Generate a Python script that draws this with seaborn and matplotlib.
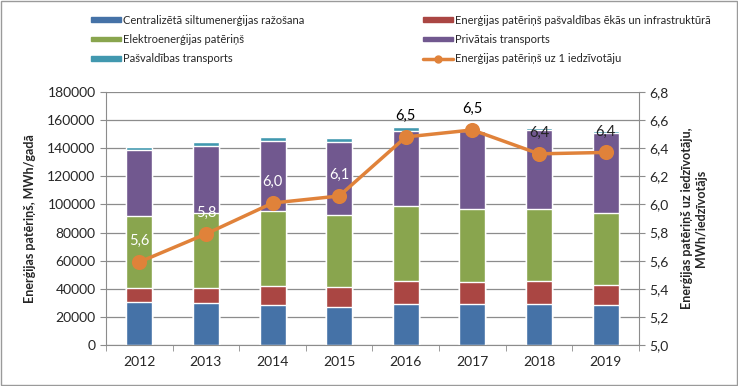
import numpy as np
import pandas as pd
import matplotlib
matplotlib.use("Agg")
import matplotlib.pyplot as plt
from matplotlib.patches import Rectangle, Patch
from matplotlib.lines import Line2D
from matplotlib.ticker import FuncFormatter, FixedLocator
import seaborn as sns

# dati
years = ["2012", "2013", "2014", "2015", "2016", "2017", "2018", "2019"]
siltums = [30800, 29900, 28460, 27000, 28900, 29400, 29400, 28200]
ekas = [9760, 10660, 13740, 14300, 16400, 15400, 15900, 14500]
elektro = [51440, 53340, 52900, 51200, 53800, 52200, 51700, 51200]
privatais = [46700, 47700, 49800, 51900, 53400, 55500, 56000, 57100]
pasv_transp = [2200, 2800, 3100, 2600, 2600, 500, 1200, 1300]
uz_iedz = [5.59, 5.79, 6.01, 6.06, 6.48, 6.53, 6.36, 6.37]
uz_iedz_labels = ["5,6", "5,8", "6,0", "6,1", "6,5", "6,5", "6,4", "6,4"]
label_colors = ["white", "white", "white", "white", "black", "black", "#222222", "#222222"]

names = ["Centralizētā siltumenerģijas ražošana",
         "Enerģijas patēriņš pašvaldības ēkās un infrastruktūrā",
         "Elektroenerģijas patēriņš",
         "Privātais transports",
         "Pašvaldības transports"]
colors = ["#4572A7", "#AA4643", "#89A54E", "#71588F", "#4198AF"]
line_color = "#E0823A"
line_name = "Enerģijas patēriņš uz 1 iedzīvotāju"

sns.set_style("white")
plt.rcParams["font.family"] = ["Lato", "DejaVu Sans"]

df = pd.DataFrame({"gads": years, names[0]: siltums, names[1]: ekas,
                   names[2]: elektro, names[3]: privatais, names[4]: pasv_transp})
cum = df[names].cumsum(axis=1)

fig = plt.figure(figsize=(7.38, 3.86), dpi=100)
ax = fig.add_axes([0.1436, 0.1062, 0.7222, 0.6555])

# sakrautie stabiņi - no augšas uz leju
for name, col in reversed(list(zip(names, colors))):
    sns.barplot(x=df["gads"], y=cum[name], color=col, width=0.39,
                saturation=1, ax=ax, zorder=2)

ax.set_ylim(0, 180000)
ax.set_yticks(np.arange(0, 180001, 20000))
ax.yaxis.grid(True, color="#8c8c8c", linewidth=0.9, zorder=0)
ax.set_axisbelow(True)
ax.set_xlim(-0.5, len(years) - 0.5)
ax.set_xlabel("")
ax.set_ylabel("Enerģijas patēriņš, MWh/gadā", fontsize=9, fontweight="bold", labelpad=8)
ax.tick_params(axis="x", which="major", length=0, labelsize=10, pad=8)
ax.xaxis.set_minor_locator(FixedLocator(np.arange(-0.5, len(years), 1)))
ax.tick_params(axis="x", which="minor", length=4, direction="out", color="#8c8c8c", bottom=True)
ax.tick_params(axis="y", length=4, direction="out", color="#8c8c8c", labelsize=10, left=True)
for s in ["left", "bottom"]:
    ax.spines[s].set_color("#8c8c8c")
ax.spines["top"].set_visible(False)
ax.spines["right"].set_visible(False)

# līnija uz iedzīvotāju
ax2 = ax.twinx()
sns.pointplot(x=years, y=uz_iedz, color=line_color, ax=ax2, markers="o",
              markersize=9, linewidth=2.5, zorder=5)
ax2.set_xlim(-0.5, len(years) - 0.5)
ax2.set_ylim(5.0, 6.8)
ax2.set_yticks(np.arange(5.0, 6.81, 0.2))
ax2.yaxis.set_major_formatter(FuncFormatter(lambda v, p: f"{v:.1f}".replace(".", ",")))
ax2.set_ylabel("Enerģijas patēriņš uz iedzīvotāju,\nMWh/iedzīvotājs", fontsize=9,
               fontweight="bold", labelpad=9)
ax2.tick_params(axis="y", length=4, direction="out", color="#8c8c8c", labelsize=10, right=True)
ax2.spines["right"].set_color("#8c8c8c")
for s in ["top", "left", "bottom"]:
    ax2.spines[s].set_visible(False)

for i, (v, lab, c) in enumerate(zip(uz_iedz, uz_iedz_labels, label_colors)):
    ax2.annotate(lab, (i, v), xytext=(0, 10), textcoords="offset points",
                 ha="center", va="bottom", fontsize=10.5, color=c)

# leģenda - divas kolonnas
leg_kw = dict(loc="upper left", frameon=False, fontsize=8, handlelength=2.7,
              handleheight=0.3, labelspacing=0.75, handletextpad=0.15,
              borderpad=0, borderaxespad=0)
h1 = [Patch(color=colors[0]), Patch(color=colors[2]), Patch(color=colors[4])]
h2 = [Patch(color=colors[1]), Patch(color=colors[3]),
      Line2D([], [], color=line_color, linewidth=2.5, marker="o", markersize=5)]
leg1 = fig.legend(h1, [names[0], names[2], names[4]], bbox_to_anchor=(0.1233, 0.962), **leg_kw)
leg2 = fig.legend(h2, [names[1], names[3], line_name], bbox_to_anchor=(0.5732, 0.962), **leg_kw)

fig.patches.append(Rectangle((0.001, 0.002), 0.997, 0.995, transform=fig.transFigure,
                             fill=False, edgecolor="#9a9a9a", linewidth=1))

fig.savefig("out.png", dpi=100)
